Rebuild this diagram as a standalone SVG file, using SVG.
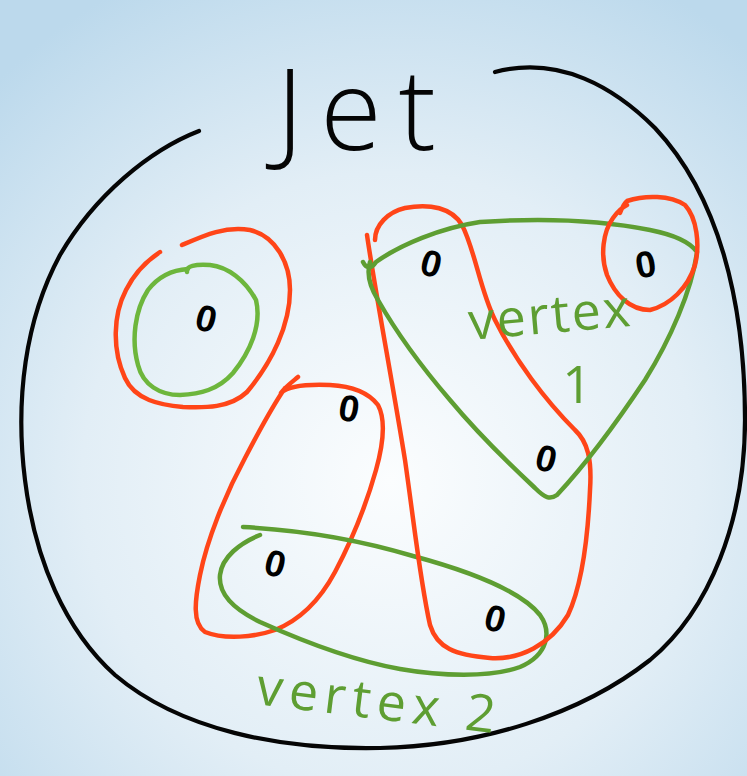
<svg xmlns="http://www.w3.org/2000/svg" width="747" height="776" viewBox="0 0 747 776">
<defs>
<radialGradient id="bg" cx="390" cy="480" r="560" gradientUnits="userSpaceOnUse">
<stop offset="0" stop-color="#fbfdfe"/>
<stop offset="0.55" stop-color="#e2eef6"/>
<stop offset="1" stop-color="#bcd9ec"/>
</radialGradient>
<style>
.ln{fill:none;stroke-linecap:round;stroke-linejoin:round;stroke-width:4.5}
.blk{stroke:#050505;stroke-width:4.2}
.red{stroke:#ff4518}
.grn{stroke:#5e9e32}
.lgr{stroke:#6db63c}
.pt{font-family:"Liberation Sans",Arial,sans-serif;font-weight:bold;font-size:37px;fill:#000;text-anchor:middle}
.lbl{font-family:"Open Sans","Liberation Sans",sans-serif;font-weight:400;font-size:52px;fill:#5e9e32}
.jet{font-family:"Open Sans","Liberation Sans",sans-serif;font-weight:300;font-size:112px;fill:#050505}
</style>
</defs>
<rect width="747" height="776" fill="url(#bg)"/>
<g id="jet">
<path class="ln blk" d="M199,131 C150,150 95,195 60,255 C25,320 15,400 25,480 C35,560 65,630 115,675 C180,730 280,750 380,748 C480,746 580,715 650,660 C710,610 745,520 745,420 C745,300 718,195 655,128 C615,88 560,55 495,72"/>
<text class="jet" x="276" y="150" textLength="160" lengthAdjust="spacing">Jet</text>
</g>
<g id="clusters">
<path class="ln red" d="M182,245 C205,235 225,226 250,230 C275,236 290,262 290,290 C290,325 272,362 247,392 C230,408 205,408 183,407 C160,405 135,400 125,378 C112,350 113,315 126,290 C135,272 148,260 160,252"/>
<path class="ln lgr" d="M187,272 C186,266 195,264 210,265 C228,267 245,280 256,300 C262,325 250,352 233,373 C218,390 200,394 180,395 C160,395 143,385 138,365 C131,340 135,310 148,290 C158,277 172,270 188,269"/>
<path class="ln red" d="M298,377 C292,382 284,388 281,393 C288,386 305,384 330,385 C350,386 368,392 378,405 C386,420 383,445 376,470 C367,502 352,540 335,572 C320,600 300,620 275,630 C255,637 225,640 205,632 C192,623 195,600 200,575 C207,540 225,495 245,458 C258,433 270,410 285,388"/>
<path class="ln grn" d="M243,527 C300,530 360,540 413,556 C465,570 520,590 540,615 C552,632 548,655 520,667 C490,678 440,676 400,669 C350,660 300,640 260,622 C235,610 218,595 220,575 C222,557 240,543 260,535"/>
<path class="ln red" d="M367,235 C375,290 392,380 405,460 C415,530 420,580 430,625 C437,648 455,655 490,658 C520,660 550,645 568,615 C582,585 588,535 590,490 C592,460 588,442 575,430 C545,400 515,360 495,320 C480,290 475,250 462,225 C452,208 430,203 405,208 C388,212 375,225 375,240"/>
<path class="ln grn" d="M363,262 C367,270 372,268 376,262 C400,245 440,228 480,222 C540,218 600,220 650,230 C675,235 690,242 697,252 C692,290 670,340 645,380 C615,425 585,465 557,495 C550,500 545,498 535,488 C505,460 475,430 450,400 C420,365 395,330 378,300 C370,287 366,275 370,262"/>
<path class="ln red" d="M620,213 C622,208 624,203 627,201 C645,195 670,195 685,205 C697,218 700,245 695,265 C688,288 670,305 650,310 C630,310 615,295 607,275 C600,255 603,232 613,218 C618,211 623,207 627,205"/>
</g>
<g id="particles">
<text class="pt" transform="translate(203,331) rotate(15)">0</text>
<text class="pt" transform="translate(428,276) rotate(15)">0</text>
<text class="pt" transform="translate(648,277) rotate(-10)">0</text>
<text class="pt" transform="translate(543,471) rotate(15)">0</text>
<text class="pt" transform="translate(347,421) rotate(10)">0</text>
<text class="pt" transform="translate(272,576) rotate(15)">0</text>
<text class="pt" transform="translate(492,631) rotate(15)">0</text>
</g>
<g id="labels">
<text class="lbl" x="470" y="340" transform="rotate(-5 470 340)" textLength="162" lengthAdjust="spacing">vertex</text>
<text class="lbl" x="577" y="403" text-anchor="middle" font-size="62px">1</text>
<text class="lbl" x="255" y="704" transform="rotate(7 255 704)" textLength="240" lengthAdjust="spacing">vertex 2</text>
</g>
</svg>
